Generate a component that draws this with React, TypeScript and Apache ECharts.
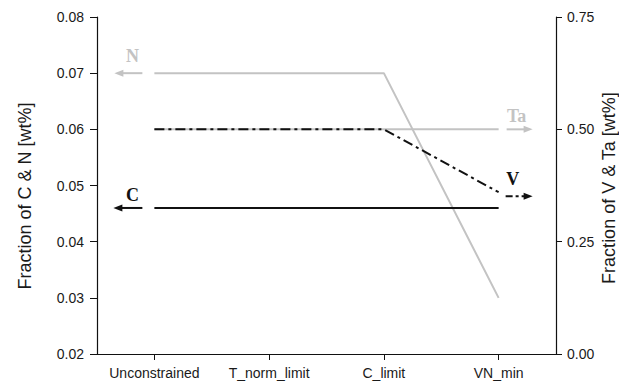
import React, { useEffect, useRef } from "react";
import * as echarts from "echarts";

const categories = ["Unconstrained", "T_norm_limit", "C_limit", "VN_min"];
const nValues = [0.07, 0.07, 0.07, 0.03];
const cValues = [0.046, 0.046, 0.046, 0.046];
const taValues = [0.5, 0.5, 0.5, 0.5];
const vValues = [0.5, 0.5, 0.5, 0.36];
const leftTicks = { min: 0.02, max: 0.08, interval: 0.01 };
const rightTicks = { min: 0, max: 0.75, interval: 0.25 };
const leftTitle = "Fraction of C & N [wt%]";
const rightTitle = "Fraction of V & Ta [wt%]";

const GRAY = "#c3c3c3";
const BLACK = "#111111";
const DASHDOT = [10, 4, 3, 4];
const SANS = "Liberation Sans, Arial, sans-serif";
const SERIF = "Liberation Serif, Times New Roman, serif";

function arrow(x1: number, x2: number, y: number, color: string, dash?: number[]) {
  const dir = x2 > x1 ? 1 : -1;
  const headLen = 9;
  const half = 3.5;
  return {
    type: "group",
    silent: true,
    children: [
      {
        type: "line",
        shape: { x1, y1: y, x2: x2 - dir * headLen + dir * 1, y2: y },
        style: { stroke: color, lineWidth: 2, lineDash: dash },
      },
      {
        type: "polygon",
        shape: {
          points: [
            [x2, y],
            [x2 - dir * headLen, y - half],
            [x2 - dir * headLen, y + half],
          ],
        },
        style: { fill: color },
      },
    ],
  };
}

function label(text: string, x: number, y: number, color: string) {
  return {
    type: "text",
    x,
    y,
    silent: true,
    style: {
      text,
      fill: color,
      font: `bold 18px ${SERIF}`,
      align: "center",
      verticalAlign: "middle",
    },
  };
}

export default function App() {
  const ref = useRef<HTMLDivElement>(null);
  useEffect(() => {
    document.body.style.margin = "0";
    const el = ref.current!;
    const chart = echarts.init(el, null, { renderer: "svg" });
    const option: any = {
      animation: false,
      backgroundColor: "#ffffff",
      grid: { left: 97, right: 63, top: 17, bottom: 31 },
      xAxis: {
        type: "category",
        data: categories,
        boundaryGap: true,
        axisLine: { show: true, lineStyle: { color: BLACK, width: 1.2 } },
        axisTick: { show: true, alignWithLabel: true, interval: 0, length: 6, lineStyle: { color: BLACK } },
        axisLabel: { color: "#1a1a1a", fontSize: 14, fontFamily: SANS, margin: 12, interval: 0, hideOverlap: false },
        splitLine: { show: false },
      },
      yAxis: [
        {
          type: "value",
          position: "left",
          min: leftTicks.min,
          max: leftTicks.max,
          interval: leftTicks.interval,
          axisLine: { show: true, lineStyle: { color: BLACK, width: 1.2 } },
          axisTick: { show: true, length: 7, lineStyle: { color: BLACK } },
          axisLabel: {
            color: "#1a1a1a",
            fontSize: 14,
            fontFamily: SANS,
            margin: 13,
            formatter: (v: number) => v.toFixed(2),
          },
          splitLine: { show: false },
        },
        {
          type: "value",
          position: "right",
          min: rightTicks.min,
          max: rightTicks.max,
          interval: rightTicks.interval,
          axisLine: { show: true, lineStyle: { color: BLACK, width: 1.2 } },
          axisTick: { show: true, length: 6, lineStyle: { color: BLACK } },
          axisLabel: {
            color: "#1a1a1a",
            fontSize: 14,
            fontFamily: SANS,
            margin: 11,
            formatter: (v: number) => v.toFixed(2),
          },
          splitLine: { show: false },
        },
      ],
      series: [
        {
          name: "N",
          type: "line",
          yAxisIndex: 0,
          data: nValues,
          symbol: "none",
          lineStyle: { color: GRAY, width: 2 },
          z: 1,
        },
        {
          name: "Ta",
          type: "line",
          yAxisIndex: 1,
          data: taValues,
          symbol: "none",
          lineStyle: { color: GRAY, width: 2 },
          z: 1,
        },
        {
          name: "C",
          type: "line",
          yAxisIndex: 0,
          data: cValues,
          symbol: "none",
          lineStyle: { color: BLACK, width: 2 },
          z: 2,
        },
        {
          name: "V",
          type: "line",
          yAxisIndex: 1,
          data: vValues,
          symbol: "none",
          lineStyle: { color: BLACK, width: 2, type: DASHDOT },
          z: 3,
        },
      ],
    };
    chart.setOption(option);

    const last = categories.length - 1;
    const px = (ci: number, v: number, yi: number) =>
      chart.convertToPixel({ xAxisIndex: 0, yAxisIndex: yi }, [ci, v]) as number[];
    const n0 = px(0, nValues[0], 0);
    const c0 = px(0, cValues[0], 0);
    const taL = px(last, taValues[last], 1);
    const vL = px(last, vValues[last], 1);

    const titleFont = `18px ${SANS}`;
    chart.setOption({
      graphic: [
        arrow(n0[0] - 12, n0[0] - 40, n0[1], GRAY),
        label("N", n0[0] - 22, n0[1] - 17, GRAY),
        arrow(c0[0] - 12, c0[0] - 41, c0[1], BLACK),
        label("C", c0[0] - 22, c0[1] - 12.5, BLACK),
        arrow(taL[0] + 8, taL[0] + 34, taL[1], GRAY),
        label("Ta", taL[0] + 18, taL[1] - 13, GRAY),
        arrow(vL[0] + 7, vL[0] + 34, vL[1] + 4, BLACK, [7, 3, 3, 3]),
        label("V", vL[0] + 14, vL[1] - 13, BLACK),
        {
          type: "text",
          x: 25,
          y: 196,
          rotation: Math.PI / 2,
          style: {
            text: leftTitle,
            fill: "#1a1a1a",
            font: titleFont,
            align: "center",
            verticalAlign: "middle",
          },
        },
        {
          type: "text",
          x: 609,
          y: 188,
          rotation: Math.PI / 2,
          style: {
            text: rightTitle,
            fill: "#1a1a1a",
            font: titleFont,
            align: "center",
            verticalAlign: "middle",
          },
        },
      ],
    });

    return () => chart.dispose();
  }, []);
  return <div ref={ref} style={{ width: 619, height: 385 }} />;
}
